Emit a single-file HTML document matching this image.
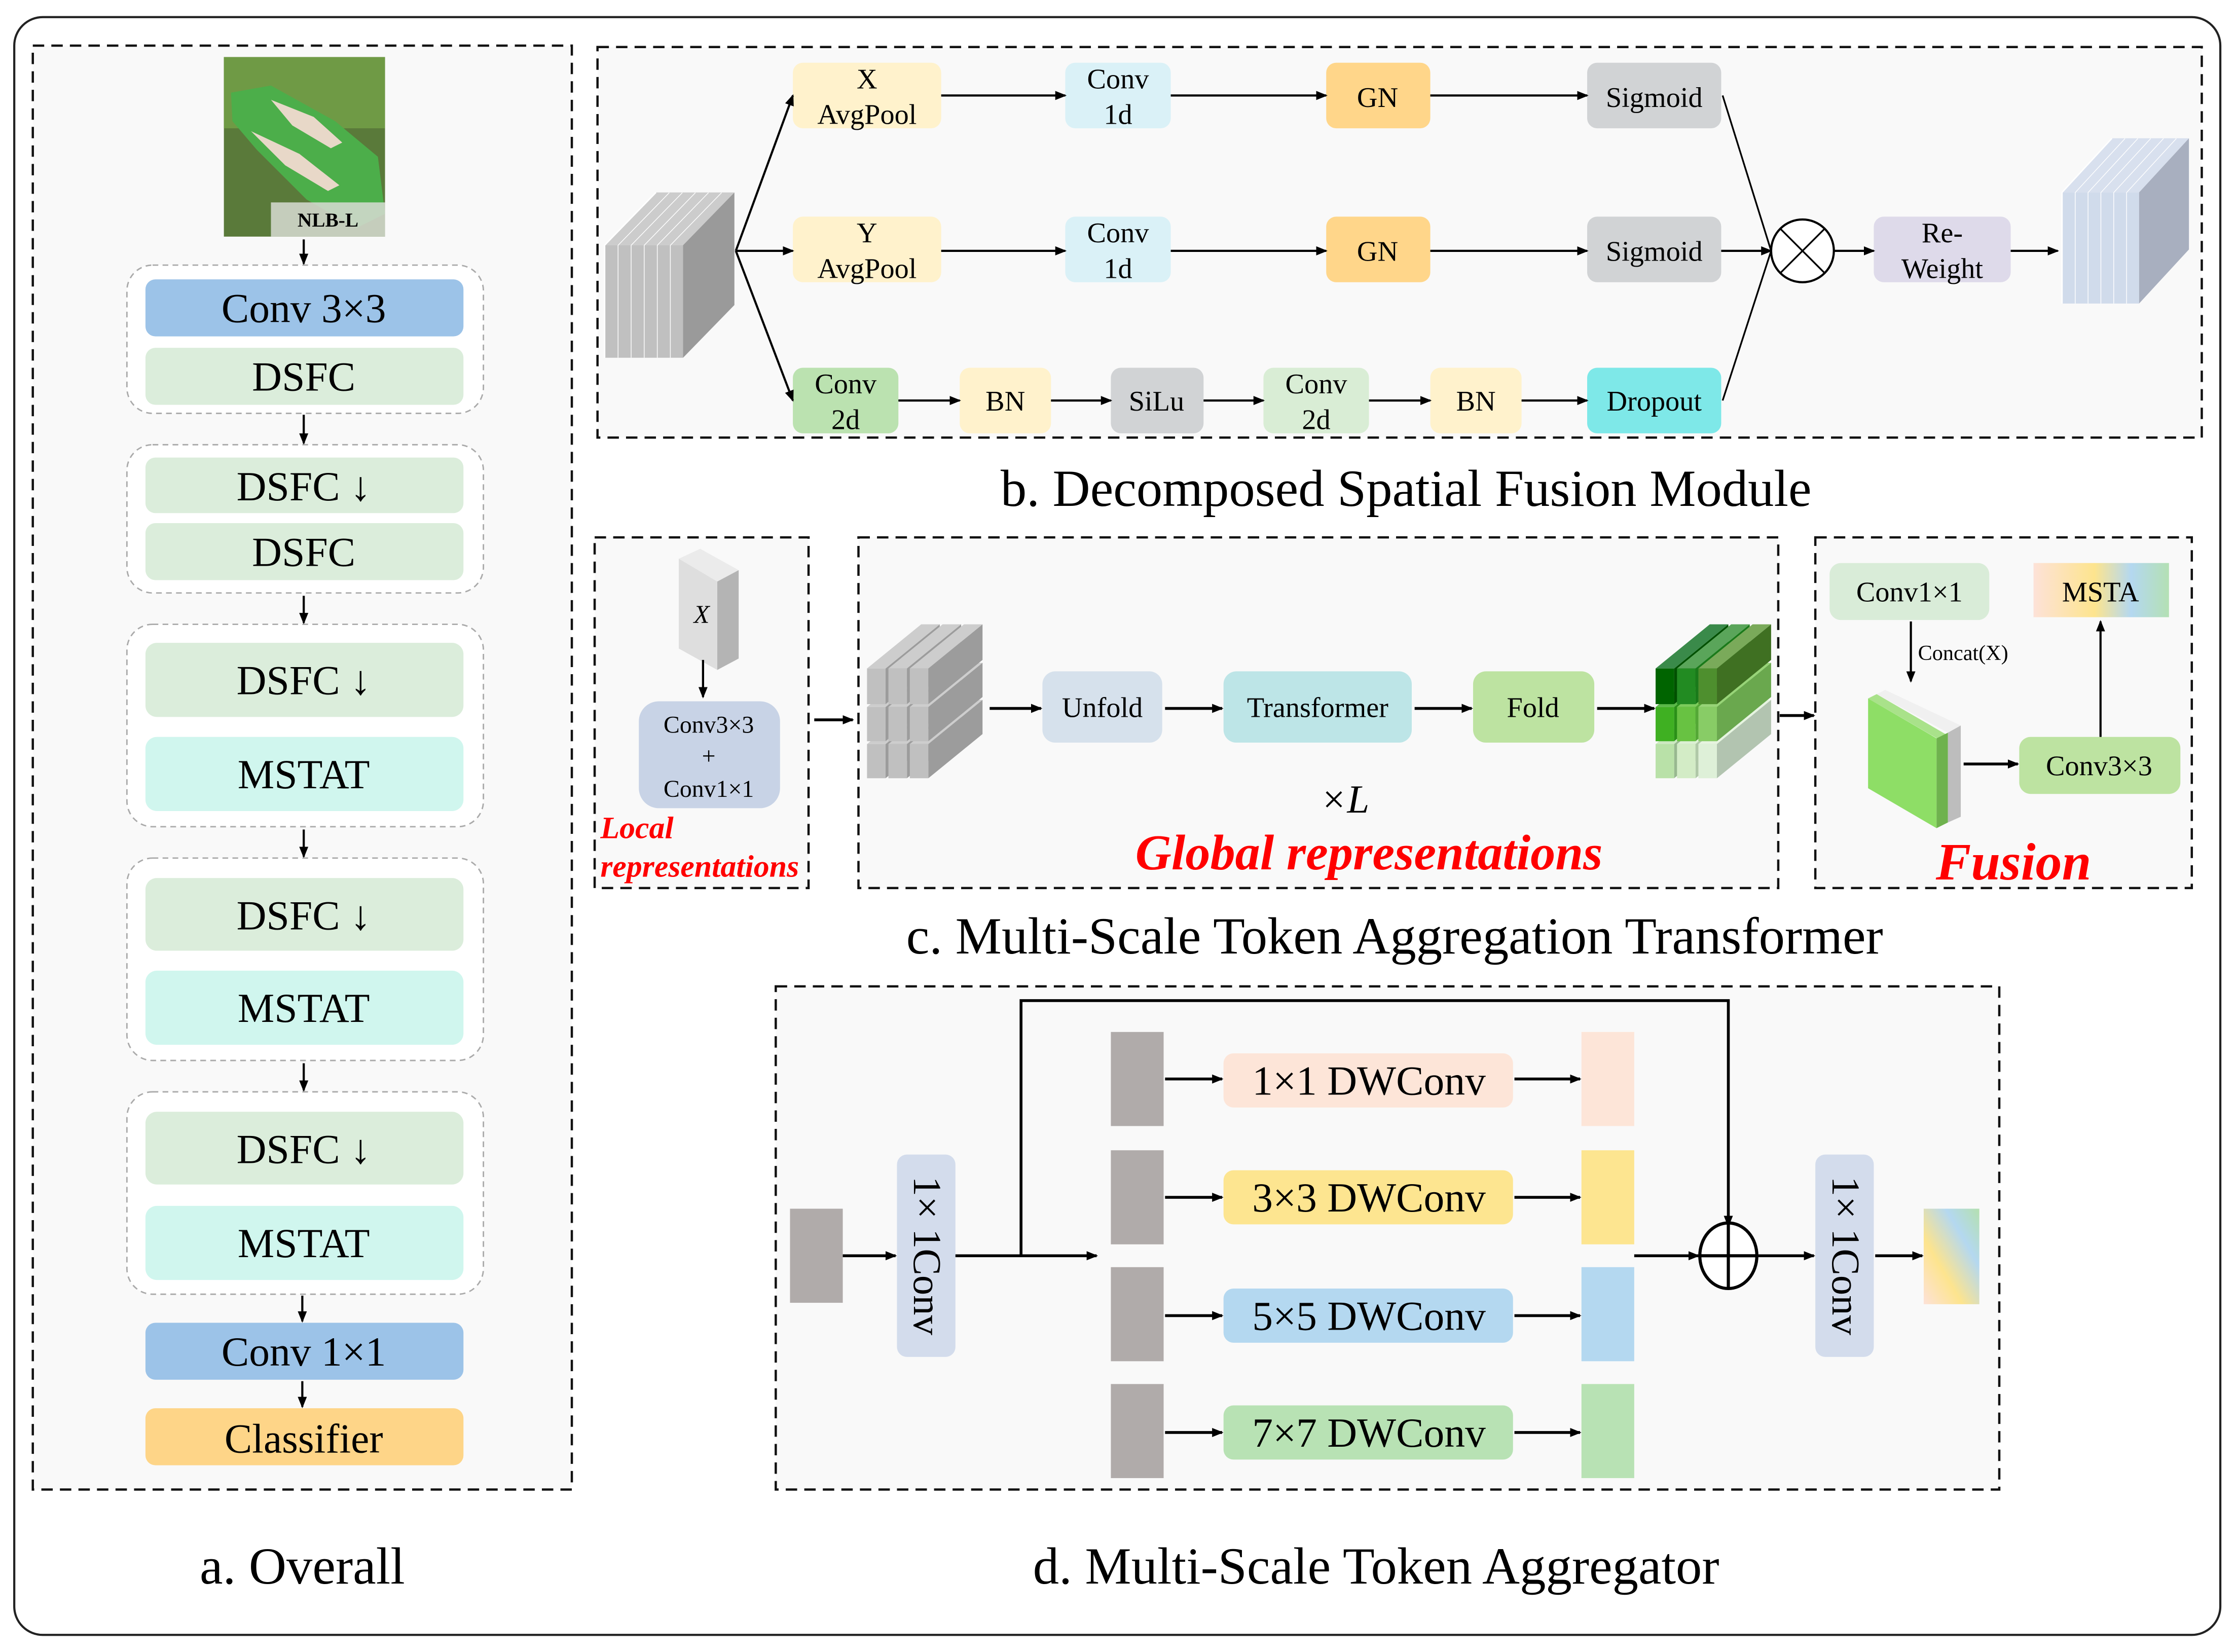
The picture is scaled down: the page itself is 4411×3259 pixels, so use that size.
<!DOCTYPE html>
<html><head><meta charset="utf-8">
<style>
html,body{margin:0;padding:0;background:#fff;}
svg{display:block;}
text{font-family:"Liberation Serif",serif;}
</style></head>
<body>
<svg id="s" xmlns="http://www.w3.org/2000/svg" width="4411" height="3259" viewBox="0 0 1568 1159" preserveAspectRatio="none" font-family="Liberation Serif, serif">
<defs>
<marker id="ah" markerWidth="8" markerHeight="8" refX="7" refY="4" orient="auto" markerUnits="userSpaceOnUse">
<path d="M0,0.8 L8,4 L0,7.2 Z" fill="#000"/></marker>
<linearGradient id="msta" x1="0" y1="0" x2="1" y2="0">
<stop offset="0" stop-color="#fde2d8"/><stop offset="0.45" stop-color="#fde48e"/><stop offset="0.72" stop-color="#b4d8f0"/><stop offset="1" stop-color="#b4e0b4"/></linearGradient>
<linearGradient id="outg" x1="1" y1="0" x2="0" y2="1">
<stop offset="0" stop-color="#b4e0b0"/><stop offset="0.3" stop-color="#b4d8f0"/><stop offset="0.65" stop-color="#fde48e"/><stop offset="1" stop-color="#fde2d8"/></linearGradient>
</defs>
<rect x="0" y="0" width="1568" height="1159" fill="#fff"/>
<rect x="10" y="12" width="1547" height="1135" rx="20" fill="#fff" stroke="#222" stroke-width="1.5"/>

<!-- Panel a -->
<rect x="23" y="32" width="378" height="1013" fill="#f9f9f9" stroke="#111" stroke-width="1.6" stroke-dasharray="8,5"/>
<rect x="157" y="40" width="113" height="126" fill="#5a7a3a"/>
<rect x="157" y="40" width="113" height="50" fill="#6f9a45"/>
<path d="M162,65 L190,60 L235,85 L265,110 L270,150 L250,160 L215,140 L180,105 L163,85 Z" fill="#4cae4a"/>
<path d="M190,70 L220,82 L240,100 L232,104 L205,88 Z" fill="#e8d8c8"/>
<path d="M176,92 L210,108 L238,130 L230,134 L200,116 Z" fill="#e8d8c8"/>
<rect x="190" y="142" width="80" height="24" fill="#d8dcd4" opacity="0.85"/>
<text x="230" y="159" font-size="14" font-weight="bold" text-anchor="middle">NLB-L</text>

<g fill="none" stroke="#aaa" stroke-width="1" stroke-dasharray="4,3">
<rect x="89" y="186" width="250" height="104" rx="18" fill="#fff"/>
<rect x="89" y="312" width="250" height="104" rx="18" fill="#fff"/>
<rect x="89" y="438" width="250" height="142" rx="18" fill="#fff"/>
<rect x="89" y="602" width="250" height="142" rx="18" fill="#fff"/>
<rect x="89" y="766" width="250" height="142" rx="18" fill="#fff"/>
</g>
<g font-size="29" text-anchor="middle">
<rect x="102" y="196" width="223" height="40" rx="7" fill="#9cc3e8"/><text x="213" y="226">Conv 3×3</text>
<rect x="102" y="244" width="223" height="40" rx="7" fill="#dbeddb"/><text x="213" y="274">DSFC</text>
<rect x="102" y="321" width="223" height="39" rx="7" fill="#dbeddb"/><text x="213" y="351">DSFC ↓</text>
<rect x="102" y="367" width="223" height="40" rx="7" fill="#dbeddb"/><text x="213" y="397">DSFC</text>
<rect x="102" y="451" width="223" height="52" rx="8" fill="#dbeddb"/><text x="213" y="487">DSFC ↓</text>
<rect x="102" y="517" width="223" height="52" rx="8" fill="#d0f6ee"/><text x="213" y="553">MSTAT</text>
<rect x="102" y="616" width="223" height="51" rx="8" fill="#dbeddb"/><text x="213" y="652">DSFC ↓</text>
<rect x="102" y="681" width="223" height="52" rx="8" fill="#d0f6ee"/><text x="213" y="717">MSTAT</text>
<rect x="102" y="780" width="223" height="51" rx="8" fill="#dbeddb"/><text x="213" y="816">DSFC ↓</text>
<rect x="102" y="846" width="223" height="52" rx="8" fill="#d0f6ee"/><text x="213" y="882">MSTAT</text>
<rect x="102" y="928" width="223" height="40" rx="7" fill="#9cc3e8"/><text x="213" y="958">Conv 1×1</text>
<rect x="102" y="988" width="223" height="40" rx="7" fill="#fed588"/><text x="213" y="1019">Classifier</text>
</g>
<g stroke="#000" stroke-width="1.5" marker-end="url(#ah)">
<line x1="213" y1="168" x2="213" y2="185"/>
<line x1="213" y1="291" x2="213" y2="311"/>
<line x1="213" y1="418" x2="213" y2="437"/>
<line x1="213" y1="582" x2="213" y2="601"/>
<line x1="213" y1="746" x2="213" y2="765"/>
<line x1="212" y1="909" x2="212" y2="927"/>
<line x1="212" y1="969" x2="212" y2="987"/>
</g>
<text x="212" y="1111" font-size="36.5" text-anchor="middle">a. Overall</text>

<!-- Panel b -->
<rect x="419" y="33" width="1125" height="274" fill="#f9f9f9" stroke="#111" stroke-width="1.6" stroke-dasharray="8,5"/>
<g id="cubeb"></g>
<g font-size="20" text-anchor="middle">
<rect x="556" y="44" width="104" height="46" rx="7" fill="#fff2cc"/><text x="608" y="62">X</text><text x="608" y="87">AvgPool</text>
<rect x="747" y="44" width="74" height="46" rx="7" fill="#daf1f7"/><text x="784" y="62">Conv</text><text x="784" y="87">1d</text>
<rect x="930" y="44" width="73" height="46" rx="7" fill="#ffd68a"/><text x="966" y="75">GN</text>
<rect x="1113" y="44" width="94" height="46" rx="7" fill="#d1d3d5"/><text x="1160" y="75">Sigmoid</text>
<rect x="556" y="152" width="104" height="46" rx="7" fill="#fff2cc"/><text x="608" y="170">Y</text><text x="608" y="195">AvgPool</text>
<rect x="747" y="152" width="74" height="46" rx="7" fill="#daf1f7"/><text x="784" y="170">Conv</text><text x="784" y="195">1d</text>
<rect x="930" y="152" width="73" height="46" rx="7" fill="#ffd68a"/><text x="966" y="183">GN</text>
<rect x="1113" y="152" width="94" height="46" rx="7" fill="#d1d3d5"/><text x="1160" y="183">Sigmoid</text>
<rect x="556" y="258" width="74" height="46" rx="7" fill="#bbe2b0"/><text x="593" y="276">Conv</text><text x="593" y="301">2d</text>
<rect x="673" y="258" width="64" height="46" rx="7" fill="#fff2cc"/><text x="705" y="288">BN</text>
<rect x="779" y="258" width="65" height="46" rx="7" fill="#d1d3d5"/><text x="811" y="288">SiLu</text>
<rect x="886" y="258" width="74" height="46" rx="7" fill="#d9edd5"/><text x="923" y="276">Conv</text><text x="923" y="301">2d</text>
<rect x="1003" y="258" width="64" height="46" rx="7" fill="#fff2cc"/><text x="1035" y="288">BN</text>
<rect x="1113" y="258" width="94" height="46" rx="7" fill="#7ee8e8"/><text x="1160" y="288">Dropout</text>
<rect x="1314" y="152" width="96" height="46" rx="7" fill="#dedaea"/><text x="1362" y="170">Re-</text><text x="1362" y="195">Weight</text>
</g>
<g stroke="#000" stroke-width="1.5" fill="none" marker-end="url(#ah)">
<line x1="516" y1="176" x2="556" y2="67"/>
<line x1="516" y1="176" x2="556" y2="176"/>
<line x1="516" y1="176" x2="556" y2="281"/>
<line x1="660" y1="67" x2="747" y2="67"/><line x1="821" y1="67" x2="930" y2="67"/><line x1="1003" y1="67" x2="1113" y2="67"/>
<line x1="660" y1="176" x2="747" y2="176"/><line x1="821" y1="176" x2="930" y2="176"/><line x1="1003" y1="176" x2="1113" y2="176"/>
<line x1="630" y1="281" x2="673" y2="281"/><line x1="737" y1="281" x2="779" y2="281"/><line x1="844" y1="281" x2="886" y2="281"/><line x1="960" y1="281" x2="1003" y2="281"/><line x1="1067" y1="281" x2="1113" y2="281"/>
<line x1="1207" y1="176" x2="1242" y2="176"/>
<line x1="1286" y1="176" x2="1314" y2="176"/>
<line x1="1410" y1="176" x2="1443" y2="176"/>
</g>
<g stroke="#000" stroke-width="1.2" fill="none">
<line x1="1208" y1="67" x2="1242" y2="176"/>
<line x1="1208" y1="281" x2="1242" y2="176"/>
<circle cx="1264" cy="176" r="22" fill="#fff" stroke-width="1.5"/>
<line x1="1248.4" y1="160.4" x2="1279.6" y2="191.6"/><line x1="1279.6" y1="160.4" x2="1248.4" y2="191.6"/>
</g>
<g id="cubeo"></g>
<text x="986" y="355" font-size="36.5" text-anchor="middle">b. Decomposed Spatial Fusion Module</text>

<!-- Panel c -->
<rect x="417" y="377" width="150" height="246" fill="#f9f9f9" stroke="#111" stroke-width="1.6" stroke-dasharray="8,5"/>
<rect x="602" y="377" width="645" height="246" fill="#f9f9f9" stroke="#111" stroke-width="1.6" stroke-dasharray="8,5"/>
<rect x="1273" y="377" width="264" height="246" fill="#f9f9f9" stroke="#111" stroke-width="1.6" stroke-dasharray="8,5"/>
<polygon points="476,392 491,385 518,400 503,408" fill="#ebebeb"/>
<polygon points="476,392 503,408 503,470 476,455" fill="#dedede"/>
<polygon points="503,408 518,400 518,462 503,470" fill="#b4b4b4"/>
<text x="492" y="437" font-size="18" font-style="italic" text-anchor="middle">X</text>
<rect x="448" y="492" width="99" height="75" rx="14" fill="#c8d3e6"/>
<g font-size="17" text-anchor="middle"><text x="497" y="514">Conv3×3</text><text x="497" y="536">+</text><text x="497" y="559">Conv1×1</text></g>
<g fill="#f00" font-weight="bold" font-style="italic" font-size="22"><text x="421" y="588">Local</text><text x="421" y="615">representations</text></g>
<g id="stk"></g>
<g font-size="20" text-anchor="middle">
<rect x="731" y="471" width="84" height="50" rx="9" fill="#d6e1ec"/><text x="773" y="503">Unfold</text>
<rect x="858" y="471" width="132" height="50" rx="9" fill="#bde5e7"/><text x="924" y="503">Transformer</text>
<rect x="1033" y="471" width="85" height="50" rx="9" fill="#bde3a1"/><text x="1075" y="503">Fold</text>
<rect x="1283" y="395" width="112" height="40" rx="8" fill="#d9ecd8"/><text x="1339" y="422">Conv1×1</text>
<rect x="1426" y="395" width="95" height="38" fill="url(#msta)"/><text x="1473" y="422">MSTA</text>
<rect x="1416" y="517" width="113" height="40" rx="8" fill="#bde3a1"/><text x="1472" y="544">Conv3×3</text>
</g>
<text x="1345" y="463" font-size="15">Concat(X)</text>
<polygon points="1316,487 1322,484 1375,509 1366,514" fill="#f0f0f0"/>
<polygon points="1310,490 1316,487 1366,516 1360,519" fill="#a9e28a"/>
<polygon points="1310,490 1358,518 1358,581 1310,553" fill="#8ede66"/>
<polygon points="1358,518 1366,514 1366,577 1358,581" fill="#6fb24e"/>
<polygon points="1366,514 1375,509 1375,573 1366,577" fill="#bdbdbd"/>
<text x="943" y="570" font-size="28" font-style="italic" text-anchor="middle">×L</text>
<text x="960" y="610" font-size="35" fill="#f00" font-weight="bold" font-style="italic" text-anchor="middle">Global representations</text>
<text x="1412" y="617" font-size="37" fill="#f00" font-weight="bold" font-style="italic" text-anchor="middle">Fusion</text>
<g stroke="#000" stroke-width="2" marker-end="url(#ah)">
<line x1="493" y1="463" x2="493" y2="489" stroke-width="1.5"/>
<line x1="571" y1="505" x2="598" y2="505"/>
<line x1="694" y1="497" x2="730" y2="497"/>
<line x1="817" y1="497" x2="857" y2="497"/>
<line x1="992" y1="497" x2="1032" y2="497"/>
<line x1="1120" y1="497" x2="1160" y2="497"/>
<line x1="1248" y1="502" x2="1272" y2="502"/>
<line x1="1340" y1="436" x2="1340" y2="478" stroke-width="1.5"/>
<line x1="1377" y1="536" x2="1415" y2="536"/>
<line x1="1473" y1="517" x2="1473" y2="436" stroke-width="1.5"/>
</g>
<text x="978" y="669" font-size="36.5" text-anchor="middle">c. Multi-Scale Token Aggregation Transformer</text>

<!-- Panel d -->
<rect x="544" y="692" width="858" height="353" fill="#f9f9f9" stroke="#111" stroke-width="1.6" stroke-dasharray="8,5"/>
<rect x="554" y="848" width="37" height="66" fill="#b0abaa"/>
<rect x="629" y="810" width="41" height="142" rx="7" fill="#d3dcec"/>
<text transform="translate(641,881) rotate(90)" font-size="28" text-anchor="middle">1× 1Conv</text>
<rect x="1273" y="810" width="41" height="142" rx="7" fill="#d3dcec"/>
<text transform="translate(1285,881) rotate(90)" font-size="28" text-anchor="middle">1× 1Conv</text>
<g fill="#b0abaa">
<rect x="779" y="724" width="37" height="66"/><rect x="779" y="807" width="37" height="66"/>
<rect x="779" y="889" width="37" height="66"/><rect x="779" y="971" width="37" height="66"/></g>
<rect x="1109" y="724" width="37" height="66" fill="#fde5d8"/>
<rect x="1109" y="807" width="37" height="66" fill="#fde590"/>
<rect x="1109" y="889" width="37" height="66" fill="#b4d8f0"/>
<rect x="1109" y="971" width="37" height="66" fill="#b8e2b4"/>
<g font-size="29" text-anchor="middle">
<rect x="858" y="739" width="203" height="38" rx="7" fill="#fde5d8"/><text x="960" y="768">1×1 DWConv</text>
<rect x="858" y="821" width="203" height="38" rx="7" fill="#fde590"/><text x="960" y="850">3×3 DWConv</text>
<rect x="858" y="904" width="203" height="38" rx="7" fill="#b4d8f0"/><text x="960" y="933">5×5 DWConv</text>
<rect x="858" y="986" width="203" height="38" rx="7" fill="#b8e2b4"/><text x="960" y="1015">7×7 DWConv</text>
</g>
<rect x="1349" y="848" width="39" height="67" fill="url(#outg)"/>
<g stroke="#000" stroke-width="2" fill="none" marker-end="url(#ah)">
<line x1="591" y1="881" x2="628" y2="881"/>
<line x1="670" y1="881" x2="769" y2="881"/>
<polyline points="716,881 716,702 1212,702 1212,860"/>
<line x1="817" y1="757" x2="857" y2="757"/><line x1="1062" y1="757" x2="1108" y2="757"/>
<line x1="817" y1="840" x2="857" y2="840"/><line x1="1062" y1="840" x2="1108" y2="840"/>
<line x1="817" y1="923" x2="857" y2="923"/><line x1="1062" y1="923" x2="1108" y2="923"/>
<line x1="817" y1="1005" x2="857" y2="1005"/><line x1="1062" y1="1005" x2="1108" y2="1005"/>
<line x1="1146" y1="881" x2="1191" y2="881"/>
<line x1="1233" y1="881" x2="1272" y2="881"/>
<line x1="1315" y1="881" x2="1348" y2="881"/>
</g>
<g stroke="#000" stroke-width="2.2" fill="none">
<ellipse cx="1212" cy="881" rx="20" ry="23" fill="#fff"/>
<line x1="1192" y1="881" x2="1232" y2="881"/><line x1="1212" y1="858" x2="1212" y2="904"/>
</g>
<text x="965" y="1111" font-size="36.5" text-anchor="middle">d. Multi-Scale Token Aggregator</text>
</svg>
<script>
(function(){
var NS="http://www.w3.org/2000/svg";
function poly(g,pts,fill){var p=document.createElementNS(NS,"polygon");p.setAttribute("points",pts.map(function(a){return a[0]+","+a[1];}).join(" "));p.setAttribute("fill",fill);g.appendChild(p);}
function sliced(id,x0,x1,y0,y1,dx,dy,n,front,top,side){
  var g=document.getElementById(id);var w=(x1-x0)/n;
  poly(g,[[x1,y0],[x1+dx,y0+dy],[x1+dx,y1+dy],[x1,y1]],side);
  for(var i=n-1;i>=0;i--){var a=x0+i*w,b=a+w;
    poly(g,[[a,y0],[b,y0],[b+dx,y0+dy],[a+dx,y0+dy]],top);
    poly(g,[[a,y0],[b,y0],[b,y1],[a,y1]],front);
    var l=document.createElementNS(NS,"path");
    l.setAttribute("d","M"+a+","+y1+" L"+a+","+y0+" L"+(a+dx)+","+(y0+dy));
    l.setAttribute("stroke","#fff");l.setAttribute("stroke-width","1");l.setAttribute("fill","none");g.appendChild(l);}
}
sliced("cubeb",424,479,172,251,36,-37,6,"#c0c0c0","#cccccc","#9a9a9a");
sliced("cubeo",1446,1500,135,213,35,-38,6,"#d0dbeb","#d8e0ee","#a8afbf");
function stack(x0,y0,cols,rows,dx,dy,fr,tp,sd){
  var g=document.getElementById("stk");
  for(var r=rows.length-1;r>=0;r--){
    for(var c=0;c<cols.length;c++){
      var a=x0+cols[c][0],b=x0+cols[c][1],t=y0+rows[r][0],u=y0+rows[r][1];
      poly(g,[[b,t],[b+dx,t+dy],[b+dx,u+dy],[b,u]],sd[r][c]);
      poly(g,[[a,t],[b,t],[b+dx,t+dy],[a+dx,t+dy]],tp[r][c]);
      poly(g,[[a,t],[b,t],[b,u],[a,u]],fr[r][c]);
    }
  }
}
var cols=[[0,13],[15,28],[30,43]],rows=[[0,25],[27,51],[53,77]];
function rep(v){return [[v,v,v],[v,v,v],[v,v,v]];}
stack(608,469,cols,rows,38,-31,rep("#c0c0c0"),rep("#cdcdcd"),rep("#9c9c9c"));
stack(1161,469,cols,rows,38,-31,
 [["#006400","#228b22","#4e8f2e"],["#3fb022","#68c242","#88cc66"],["#b9e1a8","#d3ecc6","#def0d8"]],
 [["#3a8a4a","#5aa55a","#7aaa5a"],["#5ab848","#7ccc5c","#98d478"],["#cce8c0","#dcf0d4","#e6f4e0"]],
 [["#005000","#1a7a1a","#3f7022"],["#2a9018","#54a836","#6aa84e"],["#98b890","#b0c8a8","#b2c4b0"]]);
})();
</script>
</body></html>
